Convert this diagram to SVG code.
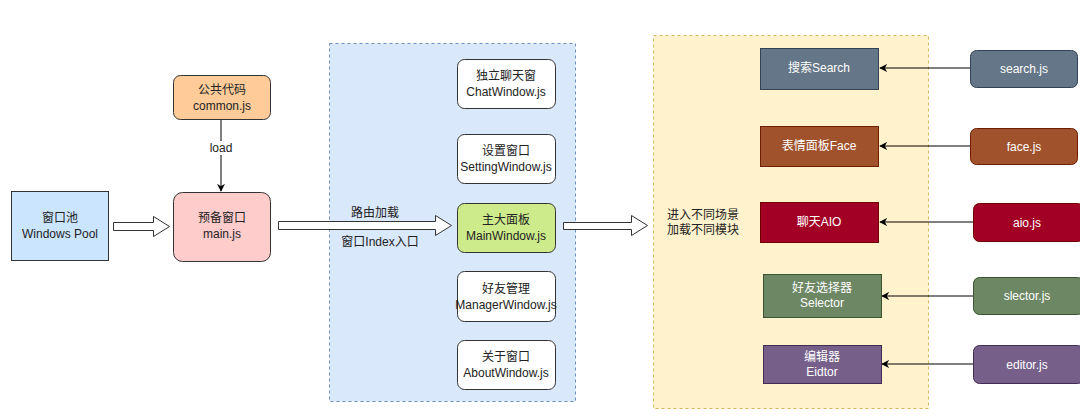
<svg xmlns="http://www.w3.org/2000/svg" width="1080" height="419" viewBox="0 0 1080 419">
<defs>
<marker id="arr" viewBox="0 0 10 10" refX="9" refY="5" markerWidth="8" markerHeight="8" markerUnits="userSpaceOnUse" orient="auto">
<path d="M0,0 L10,5 L0,10 L3,5 Z" fill="#000"/>
</marker>
<style>
text{font-family:"Liberation Sans","Noto Sans CJK SC",sans-serif;font-size:12px;text-anchor:middle;fill:#222}
.w text{fill:#fff}
.box{stroke:#333;stroke-width:1}
.cont{stroke-dasharray:3 3;stroke-width:1}
.flex{fill:#fff;stroke:#333;stroke-width:1}
.conn{stroke:#000;stroke-width:1;fill:none}
</style>
</defs>
<rect width="1080" height="419" fill="#fff"/>
<g id="container-windows"><rect class="cont" x="329.5" y="43.5" width="246" height="358" fill="#dae8fc" stroke="#6c8ebf"/></g>
<g id="container-modules"><rect class="cont" x="653.5" y="35.5" width="275" height="373" fill="#fff2cc" stroke="#d6b656"/></g>

<g id="connectors">
<line class="conn" x1="221" y1="119" x2="221" y2="191" marker-end="url(#arr)"/>
<rect x="208" y="141" width="26" height="14" fill="#fff"/>
<text x="221" y="152">load</text>
<polygon class="flex" points="113.5,222.5 153.5,222.5 153.5,216.5 169.5,226.5 153.5,236.5 153.5,230.5 113.5,230.5"/>
<polygon class="flex" points="278.5,221.5 435.5,221.5 435.5,215.5 451.5,225.5 435.5,235.5 435.5,229.5 278.5,229.5"/>
<text x="375" y="217">路由加载</text>
<text x="380" y="246">窗口Index入口</text>
<polygon class="flex" points="563.5,222.5 631.5,222.5 631.5,215.5 647.5,225.5 631.5,235.5 631.5,229.5 563.5,229.5"/>
<line class="conn" x1="970" y1="68" x2="880" y2="68" marker-end="url(#arr)"/>
<line class="conn" x1="970" y1="146" x2="880" y2="146" marker-end="url(#arr)"/>
<line class="conn" x1="973" y1="222" x2="880" y2="222" marker-end="url(#arr)"/>
<line class="conn" x1="973" y1="296" x2="882" y2="296" marker-end="url(#arr)"/>
<line class="conn" x1="973" y1="364" x2="882" y2="364" marker-end="url(#arr)"/>
</g>

<g id="windows-pool"><rect class="box" x="11.5" y="191.5" width="97" height="69" fill="#cce5ff" stroke="#36393d"/><text x="60" y="222">窗口池</text><text x="60" y="238">Windows Pool</text></g>
<g id="common"><rect class="box" x="173.5" y="75.5" width="97" height="44" rx="7" fill="#ffcc99"/><text x="222" y="94">公共代码</text><text x="222" y="110">common.js</text></g>
<g id="main"><rect class="box" x="173.5" y="192.5" width="97" height="69" rx="9" fill="#ffcccc"/><text x="222" y="222">预备窗口</text><text x="222" y="238">main.js</text></g>

<g id="chat-window"><rect class="box" x="457.5" y="59.5" width="98" height="49" rx="7" fill="#fff"/><text x="506" y="80">独立聊天窗</text><text x="506" y="96">ChatWindow.js</text></g>
<g id="setting-window"><rect class="box" x="457.5" y="134.5" width="98" height="49" rx="7" fill="#fff"/><text x="506" y="155">设置窗口</text><text x="506" y="171">SettingWindow.js</text></g>
<g id="main-window"><rect class="box" x="457.5" y="203.5" width="98" height="49" rx="7" fill="#cdeb8b"/><text x="506" y="224">主大面板</text><text x="506" y="240">MainWindow.js</text></g>
<g id="manager-window"><rect class="box" x="457.5" y="271.5" width="98" height="50" rx="7" fill="#fff"/><text x="506" y="293">好友管理</text><text x="506" y="309">ManagerWindow.js</text></g>
<g id="about-window"><rect class="box" x="457.5" y="340.5" width="98" height="49" rx="7" fill="#fff"/><text x="506" y="361">关于窗口</text><text x="506" y="377">AboutWindow.js</text></g>

<g id="scene-label"><text x="703" y="219">进入不同场景</text><text x="703" y="234">加载不同模块</text></g>

<g id="search" class="w"><rect x="760.5" y="48.5" width="118" height="41" fill="#647687" stroke="#314354"/><text x="819" y="72">搜索Search</text></g>
<g id="face" class="w"><rect x="760.5" y="126.5" width="118" height="40" fill="#a0522d" stroke="#6d1f00"/><text x="819" y="150">表情面板Face</text></g>
<g id="aio" class="w"><rect x="760.5" y="202.5" width="118" height="40" fill="#a20025" stroke="#6f0000"/><text x="819" y="226">聊天AIO</text></g>
<g id="selector" class="w"><rect x="763.5" y="274.5" width="118" height="43" fill="#6d8764" stroke="#3a5431"/><text x="822" y="292">好友选择器</text><text x="822" y="307">Selector</text></g>
<g id="editor" class="w"><rect x="763.5" y="345.5" width="118" height="38" fill="#76608a" stroke="#432d57"/><text x="822" y="361">编辑器</text><text x="822" y="376">Eidtor</text></g>

<g id="search-js" class="w"><rect x="970.5" y="50.5" width="107" height="37" rx="6" fill="#647687" stroke="#314354"/><text x="1024" y="73">search.js</text></g>
<g id="face-js" class="w"><rect x="970.5" y="128.5" width="107" height="36" rx="6" fill="#a0522d" stroke="#6d1f00"/><text x="1024" y="151">face.js</text></g>
<g id="aio-js" class="w"><rect x="973.5" y="203.5" width="110" height="38" rx="6" fill="#a20025" stroke="#6f0000"/><text x="1027" y="227">aio.js</text></g>
<g id="selector-js" class="w"><rect x="973.5" y="277.5" width="110" height="37" rx="6" fill="#6d8764" stroke="#3a5431"/><text x="1027" y="300">slector.js</text></g>
<g id="editor-js" class="w"><rect x="973.5" y="345.5" width="110" height="38" rx="6" fill="#76608a" stroke="#432d57"/><text x="1027" y="369">editor.js</text></g>
</svg>
